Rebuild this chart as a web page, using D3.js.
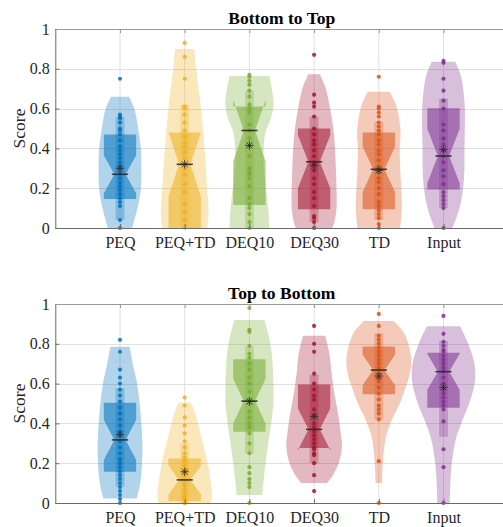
<!DOCTYPE html>
<html><head><meta charset="utf-8">
<script src="https://cdn.jsdelivr.net/npm/d3@7"></script>
<style>
html,body{margin:0;padding:0;background:#fff;}
svg{display:block;font-family:"Liberation Serif","Times New Roman",serif;}
</style></head><body>
<svg id="chart" width="503" height="527"></svg>
<script>
// ---------------- DATA ----------------
const categories = ["PEQ", "PEQ+TD", "DEQ10", "DEQ30", "TD", "Input"];
const panelTitles = ["Bottom to Top", "Top to Bottom"];
const yTicks = [0, 0.2, 0.4, 0.6, 0.8, 1];
const yLabel = "Score";
const colors = ["#0072BD", "#EDB120", "#77AC30", "#A2142F", "#D95319", "#7E2F8E"];

// Bottom to Top
const btPoints = [
  [0.75,0.57,0.56,0.55,0.53,0.50,0.49,0.47,0.44,0.41,0.39,0.37,0.35,0.33,0.31,0.30,0.28,0.27,0.25,0.23,0.21,0.19,0.17,0.15,0.13,0.11,0.04,0.0],
  [0.93,0.86,0.75,0.61,0.60,0.57,0.53,0.49,0.46,0.43,0.41,0.38,0.35,0.32,0.30,0.27,0.22,0.18,0.12,0.08,0.04,0.0],
  [0.77,0.76,0.74,0.72,0.69,0.66,0.62,0.60,0.58,0.52,0.49,0.45,0.41,0.36,0.30,0.28,0.27,0.25,0.21,0.15,0.12,0.10,0.07,0.03,0.0],
  [0.87,0.67,0.63,0.61,0.56,0.50,0.47,0.44,0.42,0.39,0.36,0.33,0.32,0.29,0.25,0.22,0.18,0.15,0.11,0.06,0.05,0.03,0.0],
  [0.76,0.61,0.60,0.58,0.56,0.53,0.51,0.49,0.47,0.44,0.42,0.39,0.37,0.34,0.31,0.30,0.28,0.25,0.23,0.20,0.17,0.13,0.11,0.09,0.07,0.05,0.02,0.0],
  [0.84,0.83,0.75,0.69,0.64,0.60,0.52,0.49,0.45,0.42,0.39,0.36,0.33,0.29,0.26,0.22,0.18,0.16,0.14,0.12,0.10,0.0]
];
const btQ1     = [0.146, 0.0,  0.115, 0.094, 0.094, 0.194];
const btMedian = [0.27,  0.32, 0.49,  0.333, 0.295, 0.362];
const btQ3     = [0.47,  0.48, 0.61,  0.50,  0.48,  0.602];
const btMean   = [0.30,  0.32, 0.415, 0.313, 0.29,  0.395];
const btWhiskLo = [0.04, 0.0,  0.0,   0.03,  0.04,  0.10];
const btWhiskHi = [0.56, 0.62, 0.69,  0.56,  0.535, 0.65];
// violin density profiles: [score, relative density]
const btDensity = [
  [[0,0.57],[0.1,0.82],[0.2,0.98],[0.3,1.0],[0.4,0.98],[0.5,0.85],[0.6,0.67],[0.66,0.42]],
  [[0,1.05],[0.08,1.12],[0.2,1.05],[0.4,0.93],[0.6,0.76],[0.8,0.54],[0.9,0.45]],
  [[0,0.93],[0.1,0.88],[0.2,0.78],[0.3,0.68],[0.4,0.67],[0.48,0.75],[0.55,1.0],[0.62,1.13],[0.7,1.05],[0.764,0.93]],
  [[0,0.85],[0.03,0.95],[0.1,1.05],[0.2,1.05],[0.3,1.02],[0.4,0.98],[0.5,0.9],[0.6,0.75],[0.7,0.55],[0.772,0.27]],
  [[0,1.0],[0.1,1.08],[0.2,1.05],[0.3,1.0],[0.4,0.98],[0.48,1.02],[0.55,0.95],[0.62,0.8],[0.685,0.52]],
  [[0,0.42],[0.05,0.6],[0.1,0.75],[0.2,0.92],[0.3,0.98],[0.4,0.98],[0.5,1.0],[0.6,1.0],[0.7,0.92],[0.77,0.8],[0.835,0.55]]
];

// Top to Bottom
const tbPoints = [
  [0.82,0.76,0.67,0.63,0.60,0.57,0.54,0.51,0.48,0.45,0.42,0.39,0.36,0.34,0.31,0.28,0.25,0.22,0.20,0.18,0.16,0.14,0.12,0.10,0.08,0.06,0.04,0.02,0.0],
  [0.53,0.49,0.43,0.39,0.35,0.31,0.28,0.25,0.23,0.21,0.19,0.17,0.15,0.13,0.11,0.09,0.07,0.05,0.03,0.02,0.0,0.0],
  [0.98,0.87,0.86,0.79,0.75,0.73,0.70,0.67,0.63,0.60,0.56,0.52,0.50,0.46,0.43,0.40,0.38,0.35,0.30,0.25,0.18,0.15,0.12,0.10,0.08,0.0],
  [0.89,0.80,0.76,0.65,0.60,0.57,0.54,0.52,0.47,0.44,0.40,0.38,0.36,0.34,0.32,0.30,0.28,0.27,0.25,0.24,0.20,0.14,0.06],
  [0.95,0.89,0.84,0.82,0.80,0.78,0.76,0.74,0.72,0.70,0.68,0.67,0.65,0.63,0.61,0.58,0.55,0.52,0.49,0.47,0.45,0.42,0.21,0.0],
  [0.94,0.85,0.81,0.79,0.77,0.76,0.74,0.72,0.70,0.68,0.66,0.63,0.60,0.57,0.55,0.53,0.51,0.49,0.47,0.41,0.27,0.18,0.0]
];
const tbQ1     = [0.157, 0.01,  0.358, 0.276, 0.546, 0.479];
const tbMedian = [0.317, 0.116, 0.512, 0.37,  0.668, 0.66];
const tbQ3     = [0.504, 0.224, 0.722, 0.596, 0.786, 0.755];
const tbMean   = [0.345, 0.157, 0.51,  0.434, 0.638, 0.581];
const tbWhiskLo = [0.082, 0.0,  0.25,  0.20,  0.42,  0.333];
const tbWhiskHi = [0.576, 0.30, 0.786, 0.645, 0.853, 0.814];
const tbDensity = [
  [[0.022,0.78],[0.1,0.95],[0.2,1.03],[0.3,1.05],[0.4,1.0],[0.5,0.92],[0.6,0.8],[0.7,0.6],[0.785,0.45]],
  [[0,1.22],[0.03,1.28],[0.1,1.22],[0.2,1.08],[0.3,0.85],[0.4,0.62],[0.45,0.5],[0.505,0.28]],
  [[0.04,0.6],[0.1,0.65],[0.2,0.76],[0.3,0.88],[0.4,1.02],[0.5,1.12],[0.6,1.12],[0.75,1.05],[0.85,0.88],[0.92,0.7]],
  [[0.1,0.6],[0.14,0.88],[0.2,1.15],[0.28,1.3],[0.35,1.25],[0.45,1.12],[0.55,0.95],[0.65,0.82],[0.75,0.72],[0.84,0.52]],
  [[0.1,0.15],[0.2,0.19],[0.3,0.28],[0.35,0.38],[0.42,0.62],[0.5,0.98],[0.6,1.32],[0.65,1.45],[0.72,1.52],[0.8,1.38],[0.86,1.15],[0.915,0.7]],
  [[0,0.29],[0.1,0.32],[0.2,0.39],[0.33,0.6],[0.42,0.9],[0.5,1.2],[0.55,1.35],[0.62,1.48],[0.7,1.45],[0.8,1.16],[0.888,0.78]]
];

// ---------------- DRAWING ----------------
const svg = d3.select("#chart");
const x = d3.scaleLinear().domain([0, 7]).range([55.3, 508.2]);

const VW = 0.33;   // violin half width per density unit (category units)
const BW = 0.25;   // box half width
const NW = 0.088;  // notch waist half width
const WW = 0.068;  // whisker rect half width
const MW = 0.125;  // median line half width

const panels = [
  { title: panelTitles[0], y: d3.scaleLinear().domain([0,1]).range([228, 29]),
    points: btPoints, q1: btQ1, med: btMedian, q3: btQ3, mean: btMean, wLo: btWhiskLo, wHi: btWhiskHi, dens: btDensity },
  { title: panelTitles[1], y: d3.scaleLinear().domain([0,1]).range([503, 304]),
    points: tbPoints, q1: tbQ1, med: tbMedian, q3: tbQ3, mean: tbMean, wLo: tbWhiskLo, wHi: tbWhiskHi, dens: tbDensity }
];

const asterisk = {
  draw(ctx, size) {
    const r = Math.sqrt(size) / 2, d = r * 0.7071;
    ctx.moveTo(-r, 0); ctx.lineTo(r, 0);
    ctx.moveTo(0, -r); ctx.lineTo(0, r);
    ctx.moveTo(-d, -d); ctx.lineTo(d, d);
    ctx.moveTo(-d, d); ctx.lineTo(d, -d);
  }
};

panels.forEach(p => {
  const y = p.y;
  const g = svg.append("g");

  // grid
  g.selectAll("line.hg").data(yTicks).join("line").attr("class","hg")
    .attr("x1", x(0)).attr("x2", x(7))
    .attr("y1", d => Math.round(y(d)) + 0.5).attr("y2", d => Math.round(y(d)) + 0.5)
    .attr("stroke", "#e0e0e0").attr("stroke-width", 1);
  g.selectAll("line.vg").data(d3.range(1, 7)).join("line").attr("class","vg")
    .attr("x1", d => x(d)).attr("x2", d => x(d))
    .attr("y1", y(0)).attr("y2", y(1))
    .attr("stroke", "#e0e0e0").attr("stroke-width", 1);

  categories.forEach((cat, i) => {
    const pos = i + 1;
    const col = colors[i];
    const n = p.points[i].length;
    const iqr = p.q3[i] - p.q1[i];
    const nLo = p.med[i] - 1.57 * iqr / Math.sqrt(n);
    const nHi = p.med[i] + 1.57 * iqr / Math.sqrt(n);

    // violin
    const area = d3.area()
      .y(d => y(d[0]))
      .x0(d => x(pos - VW * d[1]))
      .x1(d => x(pos + VW * d[1]))
      .curve(d3.curveCatmullRom.alpha(0.5));
    g.append("path").attr("d", area(p.dens[i]))
      .attr("fill", col).attr("fill-opacity", 0.3).attr("stroke", "none");

    // whisker rect
    g.append("rect")
      .attr("x", x(pos - WW)).attr("width", x(pos + WW) - x(pos - WW))
      .attr("y", y(p.wHi[i])).attr("height", y(p.wLo[i]) - y(p.wHi[i]))
      .attr("fill", col).attr("fill-opacity", 0.28);

    // notched box
    const boxPts = [
      [pos - BW, p.q1[i]], [pos - BW, nLo], [pos - NW, p.med[i]], [pos - BW, nHi], [pos - BW, p.q3[i]],
      [pos + BW, p.q3[i]], [pos + BW, nHi], [pos + NW, p.med[i]], [pos + BW, nLo], [pos + BW, p.q1[i]]
    ];
    const boxLine = d3.line().x(d => x(d[0])).y(d => y(d[1]));
    g.append("path").attr("d", boxLine(boxPts) + "Z")
      .attr("fill", col).attr("fill-opacity", 0.55).attr("stroke", "none");

    // scatter
    g.selectAll(null).data(p.points[i]).join("circle")
      .attr("cx", x(pos)).attr("cy", d => y(d)).attr("r", 2.1)
      .attr("fill", col).attr("fill-opacity", 0.85);

    // median
    g.append("line")
      .attr("x1", x(pos - MW)).attr("x2", x(pos + MW))
      .attr("y1", y(p.med[i])).attr("y2", y(p.med[i]))
      .attr("stroke", "#2a2a2a").attr("stroke-width", 1.6).attr("stroke-opacity", 0.9);

    // mean
    g.append("path")
      .attr("d", d3.symbol().type(asterisk).size(72)())
      .attr("transform", `translate(${x(pos)},${y(p.mean[i])})`)
      .attr("fill", "none").attr("stroke", "#2a2a2a").attr("stroke-width", 1).attr("stroke-opacity", 0.85);
  });

  // axes
  const yAxis = d3.axisLeft(y).tickValues(yTicks)
    .tickFormat(d => (d === 0 || d === 1) ? String(d) : d.toFixed(1))
    .tickSizeInner(-4).tickSizeOuter(0).tickPadding(5.5);
  const ay = g.append("g").attr("transform", `translate(${x(0)},0)`).call(yAxis);
  ay.selectAll("text").attr("font-size", 16).attr("fill", "#262626")
    .attr("font-family", '"Liberation Serif","Times New Roman",serif');

  const xAxis = d3.axisBottom(x).tickValues(d3.range(1, 7))
    .tickFormat(d => categories[d - 1]).tickSizeInner(-4).tickSizeOuter(0).tickPadding(9);
  const ax = g.append("g").attr("transform", `translate(0,${y(0)})`).call(xAxis);
  ax.selectAll("text").attr("font-size", 16).attr("fill", "#262626")
    .attr("font-family", '"Liberation Serif","Times New Roman",serif');

  const tAxis = d3.axisTop(x).tickValues(d3.range(1, 7)).tickFormat("")
    .tickSizeInner(-4).tickSizeOuter(0);
  const at = g.append("g").attr("transform", `translate(0,${y(1)})`).call(tAxis);

  [ay, ax].forEach(a => { a.selectAll("path.domain").attr("stroke", "#6a6a6a"); a.selectAll(".tick line").attr("stroke", "#6a6a6a"); });
  at.selectAll("path.domain").attr("stroke", "#9a9a9a");
  at.selectAll(".tick line").attr("stroke", "#9a9a9a");

  // title
  g.append("text").attr("x", x(3.5)).attr("y", y(1) - 5.5)
    .attr("text-anchor", "middle").attr("font-weight", "bold").attr("font-size", 17.5)
    .attr("fill", "#000").text(p.title);

  // y label
  g.append("text").attr("transform", `translate(25,${(y(0) + y(1)) / 2}) rotate(-90)`)
    .attr("text-anchor", "middle").attr("font-size", 17.5).attr("fill", "#262626").text(yLabel);
});
</script>
</body></html>
